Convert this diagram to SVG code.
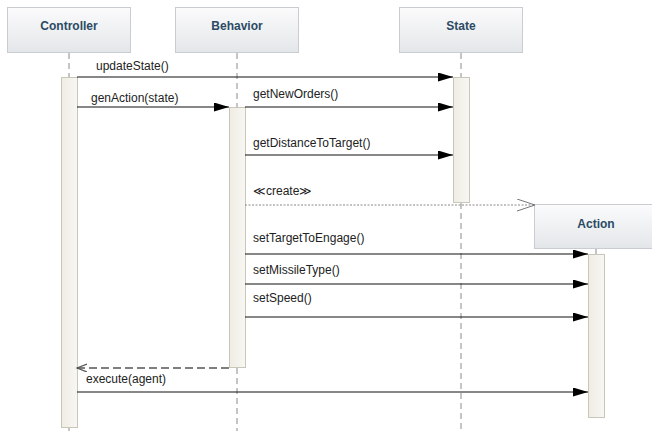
<svg xmlns="http://www.w3.org/2000/svg" width="652" height="431" viewBox="0 0 652 431">
<defs>
<linearGradient id="hdr" x1="0" y1="0" x2="0" y2="1">
<stop offset="0" stop-color="#fbfbfc"/>
<stop offset="1" stop-color="#e3e6e9"/>
</linearGradient>
<linearGradient id="act" x1="0" y1="0" x2="1" y2="0">
<stop offset="0" stop-color="#efece4"/>
<stop offset="1" stop-color="#f8f7f3"/>
</linearGradient>
<marker id="filled" markerUnits="userSpaceOnUse" markerWidth="16" markerHeight="10" refX="15" refY="4.5" orient="auto">
<path d="M0,0 L15,4.5 L0,9 z" fill="#000"/>
</marker>
<marker id="openGrey" markerUnits="userSpaceOnUse" markerWidth="20" markerHeight="14" refX="18" refY="6" orient="auto">
<path d="M0,0 L18,6 L0,12" fill="none" stroke="#777" stroke-width="1"/>
</marker>
<marker id="openRet" markerUnits="userSpaceOnUse" markerWidth="12" markerHeight="10" refX="10" refY="4" orient="auto">
<path d="M0,0 L10,4 L0,8" fill="none" stroke="#555" stroke-width="1.2"/>
</marker>
<style>
.hdr { fill: url(#hdr); stroke: #c9cdd1; stroke-width: 1; }
.title { font-family: "Liberation Sans", Arial, sans-serif; font-size: 12px; font-weight: bold; fill: #2b4a63; text-anchor: middle; }
.life { stroke: #8a8a8a; stroke-width: 1; stroke-dasharray: 6,4; fill: none; }
.bar { fill: url(#act); stroke: #cbc6ba; stroke-width: 1; }
.msg { stroke: #111; stroke-width: 1.2; fill: none; marker-end: url(#filled); }
.create { stroke: #888; stroke-width: 1; stroke-dasharray: 2,1.5; fill: none; marker-end: url(#openGrey); }
.ret { stroke: #555; stroke-width: 1.3; stroke-dasharray: 8,4; fill: none; marker-end: url(#openRet); }
.lbl { font-family: "Liberation Sans", Arial, sans-serif; font-size: 12px; fill: #222; }
</style>
</defs>
<rect width="652" height="431" fill="#fff"/>

<g id="controller">
<rect class="hdr" x="7.5" y="7.5" width="123" height="45"/>
<text class="title" x="69" y="30">Controller</text>
<line class="life" x1="69" y1="53" x2="69" y2="77"/>
<line class="life" x1="69" y1="427" x2="69" y2="431"/>
<rect class="bar" x="61.5" y="77.5" width="16" height="350"/>
</g>

<g id="behavior">
<rect class="hdr" x="175.5" y="7.5" width="123" height="45"/>
<text class="title" x="237" y="30">Behavior</text>
<line class="life" x1="237" y1="53" x2="237" y2="107"/>
<line class="life" x1="237" y1="368" x2="237" y2="431"/>
<rect class="bar" x="229.5" y="107.5" width="16" height="260"/>
</g>

<g id="state">
<rect class="hdr" x="399.5" y="7.5" width="123" height="45"/>
<text class="title" x="461" y="30">State</text>
<line class="life" x1="461" y1="53" x2="461" y2="77"/>
<line class="life" x1="461" y1="203" x2="461" y2="431"/>
<rect class="bar" x="453.5" y="77.5" width="16" height="125"/>
</g>

<g id="action">
<rect class="hdr" x="534.5" y="204.5" width="123" height="44"/>
<text class="title" x="596" y="228">Action</text>
<line class="life" x1="596" y1="249" x2="596" y2="254"/>
<rect class="bar" x="588.5" y="254.5" width="16" height="163"/>
</g>

<g id="connectors">
<line class="msg" x1="77" y1="77" x2="453" y2="77"/>
<text class="lbl" x="96" y="70">updateState()</text>

<line class="msg" x1="77" y1="107" x2="229" y2="107"/>
<text class="lbl" x="91" y="102">genAction(state)</text>

<line class="msg" x1="245" y1="107" x2="453" y2="107"/>
<text class="lbl" x="253" y="98">getNewOrders()</text>

<line class="msg" x1="245" y1="155" x2="453" y2="155"/>
<text class="lbl" x="253" y="147">getDistanceToTarget()</text>

<line class="create" x1="245" y1="205" x2="535" y2="205"/>
<text class="lbl" x="253" y="195">≪create≫</text>

<line class="msg" x1="245" y1="254" x2="588" y2="254"/>
<text class="lbl" x="253" y="242">setTargetToEngage()</text>

<line class="msg" x1="245" y1="284" x2="588" y2="284"/>
<text class="lbl" x="253" y="274">setMissileType()</text>

<line class="msg" x1="245" y1="317" x2="588" y2="317"/>
<text class="lbl" x="253" y="302">setSpeed()</text>

<line class="ret" x1="229" y1="368" x2="77" y2="368"/>

<line class="msg" x1="77" y1="392" x2="588" y2="392"/>
<text class="lbl" x="86" y="383">execute(agent)</text>
</g>
</svg>
